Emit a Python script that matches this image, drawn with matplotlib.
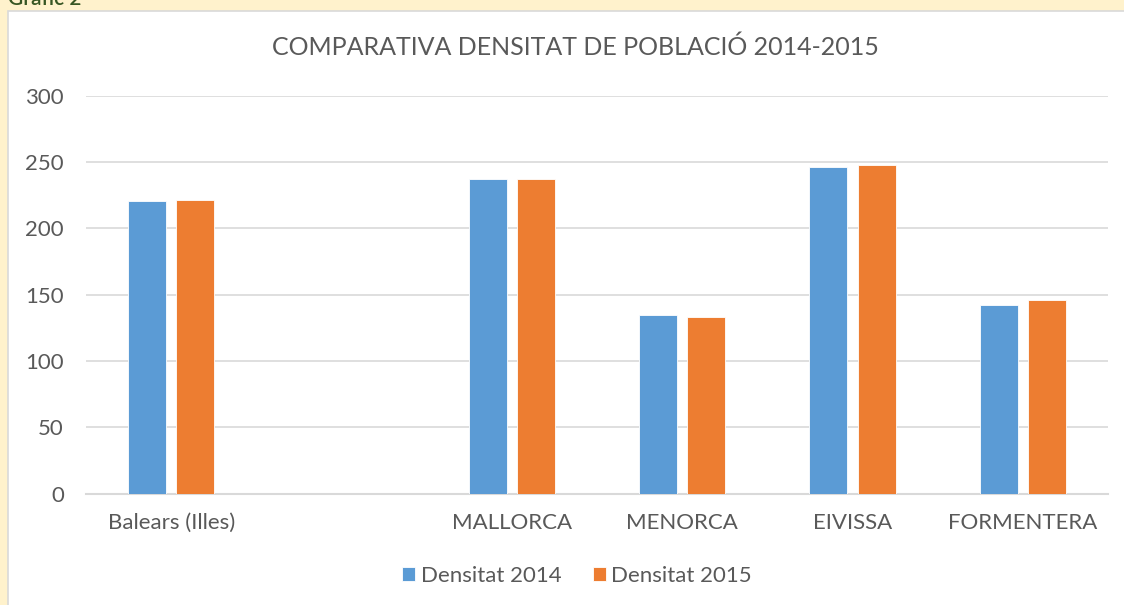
import matplotlib
matplotlib.use('Agg')
import matplotlib.pyplot as plt
import matplotlib.patches as mpatches
import numpy as np

plt.rcParams['font.family'] = ['Lato', 'DejaVu Sans']

# data
categories = ['Balears (Illes)', '', 'MALLORCA', 'MENORCA', 'EIVISSA', 'FORMENTERA']
dens_2014 = [220.9, np.nan, 237.0, 134.5, 246.4, 142.3]
dens_2015 = [221.4, np.nan, 237.3, 133.0, 247.6, 146.4]
series_names = ['Densitat 2014', 'Densitat 2015']
yticks = [0, 50, 100, 150, 200, 250, 300]

blue = '#5b9bd5'
orange = '#ed7d31'
grid_col = '#d9d9d9'
text_col = '#595959'

fig = plt.figure(figsize=(11.24, 6.05), dpi=100)
fig.patch.set_facecolor('#fff2cc')

# white panel with a thin grey border (behind the axes)
panel = mpatches.Rectangle((8 / 1124, -0.01), 1.0, 1.01 - 11 / 605, transform=fig.transFigure,
                           facecolor='white', edgecolor=grid_col, linewidth=1.2, zorder=-5)
fig.add_artist(panel)

# caption above the panel, cut off at the top edge like in the source
fig.text(8 / 1124, 1 - 5 / 605, 'Gràfic 2', color='#375623', fontsize=15,
         fontweight='semibold', va='baseline', ha='left')

ax = fig.add_axes([86 / 1124, 1 - 493.5 / 605, (1108 - 86) / 1124, (493.5 - 96) / 605])
ax.set_facecolor('none')
ax.set_zorder(2)

x = np.arange(len(categories))
w = 0.223
off = 0.141
ax.bar(x - off, dens_2014, width=w, color=blue, edgecolor='white', linewidth=0.6,
       label=series_names[0], zorder=3)
ax.bar(x + off, dens_2015, width=w, color=orange, edgecolor='white', linewidth=0.6,
       label=series_names[1], zorder=3)

ax.set_xlim(-0.5, len(categories) - 0.5)
ax.set_ylim(0, 300)
ax.set_yticks(yticks)
ax.set_xticks(x)
ax.set_xticklabels(categories)
ax.yaxis.grid(True, color=grid_col, linewidth=1.2)
ax.set_axisbelow(True)
for s in ['top', 'right', 'left']:
    ax.spines[s].set_visible(False)
ax.spines['bottom'].set_color(grid_col)
ax.spines['bottom'].set_linewidth(1.5)
ax.tick_params(axis='both', length=0, labelsize=16, colors=text_col)
ax.tick_params(axis='x', pad=14)
ax.tick_params(axis='y', pad=16)

fig.text(575 / 1124, 1 - 47 / 605, 'COMPARATIVA DENSITAT DE POBLACIÓ 2014-2015',
         ha='center', va='center', fontsize=18, color=text_col)

ax.legend(loc='center', bbox_to_anchor=(577 / 1124, 1 - 576 / 605),
          bbox_transform=fig.transFigure, ncol=2, frameon=False, fontsize=16,
          labelcolor=text_col, handlelength=0.6, handleheight=0.6,
          handletextpad=0.25, columnspacing=1.4)

fig.savefig('out.png', dpi=100, facecolor=fig.get_facecolor())
